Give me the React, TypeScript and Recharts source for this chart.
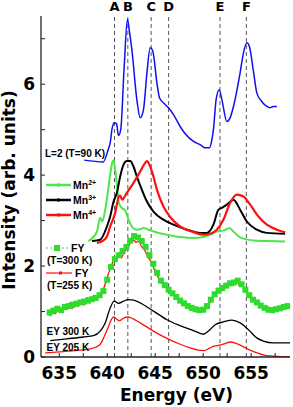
import { LineChart, Line, XAxis, YAxis, ReferenceLine } from 'recharts';

// axes
const energyTicks = [635, 637.5, 640, 642.5, 645, 647.5, 650, 652.5, 655, 657.5];
const energyLabels = [635, 640, 645, 650, 655];
const intensityTicks = [0, 1, 2, 3, 4, 5, 6, 7];
const intensityLabels = [0, 2, 4, 6];

// peak markers
const peakNames = ['A', 'B', 'C', 'D', 'E', 'F'];
const peakEnergies = [640.76, 642.15, 644.58, 646.4, 651.75, 654.5];

// L=2 (T=90 K)
const l2Spectrum: [number, number][] = [
  [637.6, 4.33], [639.58, 4.29], [640.1, 4.56], [640.31, 4.71], [640.49, 5.0], [640.76, 5.16],
  [640.97, 5.13], [641.18, 4.87], [641.41, 5.0], [641.77, 6.39], [642.11, 7.43], [642.29, 7.2],
  [642.57, 6.76], [643.09, 5.66], [643.44, 5.26], [643.78, 5.44], [644.14, 6.25], [644.48, 6.8],
  [644.76, 6.72], [645.18, 6.03], [645.45, 5.7], [645.86, 5.59], [646.39, 5.48], [646.91, 5.33],
  [647.6, 5.07], [648.13, 4.91], [648.99, 4.74], [649.69, 4.67], [650.21, 4.6], [650.66, 4.6],
  [650.91, 4.78], [651.07, 5.0], [651.35, 5.66], [651.67, 5.88], [651.95, 5.66], [652.47, 5.18],
  [652.81, 5.26], [653.16, 5.51], [653.85, 6.25], [654.2, 6.69], [654.55, 6.91], [654.82, 6.83],
  [655.24, 6.28], [655.59, 5.81], [656.11, 5.62], [656.64, 5.51], [656.98, 5.48], [657.29, 5.51],
  [657.68, 5.51],
];

// references
const mn2Spectrum: [number, number][] = [
  [638.05, 2.55], [638.93, 2.76], [639.27, 3.06], [639.48, 2.98], [639.79, 3.24], [640.1, 3.68],
  [640.36, 4.08], [640.52, 4.27], [640.68, 4.33], [640.83, 4.12], [641.01, 3.79], [641.2, 3.4],
  [641.46, 3.29], [641.88, 3.22], [642.22, 3.02], [642.57, 2.87], [643.09, 2.8], [643.44, 2.81],
  [643.78, 2.84], [644.3, 2.8], [645.18, 2.74], [646.22, 2.69], [647.6, 2.64], [648.99, 2.62],
  [650.03, 2.64], [650.73, 2.69], [651.42, 2.76], [652.11, 2.78], [652.74, 2.84], [653.16, 2.76],
  [653.85, 2.63], [655.24, 2.56], [656.64, 2.55], [658.54, 2.54],
];

const mn3Spectrum: [number, number][] = [
  [638.41, 2.55], [639.27, 2.58], [639.97, 2.87], [640.31, 3.09], [640.66, 3.42], [641.01, 3.61],
  [641.35, 3.97], [641.7, 4.23], [642.05, 4.31], [642.4, 4.31], [642.74, 4.19], [643.09, 3.97],
  [643.61, 3.68], [644.14, 3.42], [644.82, 3.2], [645.86, 3.02], [646.91, 2.91], [648.3, 2.8],
  [649.69, 2.73], [650.39, 2.73], [651.07, 2.91], [651.59, 3.24], [651.95, 3.28], [652.47, 3.35],
  [653.16, 3.46], [653.85, 3.24], [654.55, 2.98], [655.59, 2.8], [656.64, 2.73], [658.54, 2.71],
];

const mn4Spectrum: [number, number][] = [
  [638.93, 2.51], [639.58, 2.56], [639.97, 2.65], [640.31, 2.87], [640.83, 3.17], [641.18, 3.51],
  [641.35, 3.55], [641.56, 3.46], [642.05, 3.61], [642.74, 3.83], [643.44, 4.08], [643.96, 4.27],
  [644.14, 4.31], [644.48, 4.19], [644.82, 3.97], [645.18, 3.68], [645.86, 3.31], [646.56, 3.08],
  [647.6, 2.87], [648.82, 2.76], [650.03, 2.69], [650.73, 2.71], [651.42, 2.8], [652.11, 3.02],
  [652.81, 3.39], [653.51, 3.57], [654.2, 3.53], [654.9, 3.35], [655.76, 3.09], [656.64, 2.91],
  [657.68, 2.8], [658.54, 2.74],
];

// fluorescence yield
const fy300Spectrum: [number, number][] = [
  [634.0, 0.98], [634.4, 1.02], [634.8, 1.06], [635.2, 1.03], [635.6, 1.1], [636.0, 1.12],
  [636.4, 1.15], [636.8, 1.17], [637.2, 1.2], [637.6, 1.22], [638.0, 1.24], [638.4, 1.27],
  [638.8, 1.3], [639.2, 1.36], [639.6, 1.45], [640.0, 1.7], [640.4, 1.98], [640.8, 2.15],
  [641.2, 2.24], [641.6, 2.33], [642.0, 2.42], [642.4, 2.56], [642.8, 2.66], [643.2, 2.63],
  [643.6, 2.55], [644.0, 2.42], [644.4, 2.24], [644.8, 2.05], [645.2, 1.85], [645.6, 1.68],
  [646.0, 1.58], [646.4, 1.48], [646.8, 1.4], [647.2, 1.32], [647.6, 1.24], [648.0, 1.18],
  [648.4, 1.12], [648.8, 1.08], [649.2, 1.05], [649.6, 1.03], [650.0, 1.04], [650.4, 1.12],
  [650.8, 1.26], [651.2, 1.38], [651.6, 1.46], [652.0, 1.52], [652.4, 1.57], [652.8, 1.62],
  [653.2, 1.64], [653.6, 1.68], [654.0, 1.6], [654.4, 1.48], [654.8, 1.36], [655.2, 1.26],
  [655.6, 1.2], [656.0, 1.13], [656.4, 1.08], [656.8, 1.04], [657.2, 1.03], [657.6, 1.05],
  [658.0, 1.07], [658.4, 1.1], [658.8, 1.12],
];

const fy255Spectrum: [number, number][] = [
  [634.0, 0.9], [634.3, 0.98], [634.6, 0.95], [634.9, 1.08], [635.2, 1.0], [635.5, 1.12],
  [635.8, 1.05], [636.1, 1.18], [636.4, 1.08], [636.7, 1.22], [637.0, 1.12], [637.3, 1.25],
  [637.6, 1.15], [637.9, 1.3], [638.2, 1.2], [638.5, 1.33], [638.8, 1.26], [639.1, 1.4],
  [639.4, 1.36], [639.7, 1.55], [640.0, 1.75], [640.3, 1.95], [640.6, 2.1], [640.9, 2.14],
  [641.2, 2.22], [641.5, 2.18], [641.8, 2.32], [642.1, 2.38], [642.4, 2.5], [642.7, 2.58],
  [643.0, 2.52], [643.3, 2.55], [643.6, 2.42], [643.9, 2.35], [644.2, 2.22], [644.5, 2.12],
  [644.8, 1.98], [645.1, 1.82], [645.4, 1.72], [645.7, 1.62], [646.0, 1.58], [646.3, 1.5],
  [646.6, 1.45], [646.9, 1.38], [647.2, 1.36], [647.5, 1.26], [647.8, 1.22], [648.1, 1.18],
  [648.4, 1.1], [648.7, 1.12], [649.0, 1.04], [649.3, 1.08], [649.6, 1.0], [649.9, 1.05],
  [650.2, 1.02], [650.5, 1.14], [650.8, 1.22], [651.1, 1.36], [651.4, 1.4], [651.7, 1.5],
  [652.0, 1.46], [652.3, 1.58], [652.6, 1.54], [652.9, 1.64], [653.2, 1.58], [653.5, 1.68],
  [653.8, 1.56], [654.1, 1.58], [654.4, 1.46], [654.7, 1.4], [655.0, 1.3], [655.3, 1.28],
  [655.6, 1.2], [655.9, 1.16], [656.2, 1.12], [656.5, 1.06], [656.8, 1.1], [657.1, 1.0],
  [657.4, 1.06], [657.7, 1.02], [658.0, 1.08], [658.3, 1.04], [658.6, 1.12], [658.9, 1.1],
];

// electron yield
const ey300Spectrum: [number, number][] = [
  [634.06, 0.36], [635.8, 0.4], [637.53, 0.44], [638.57, 0.47], [639.27, 0.57], [639.79, 0.75],
  [640.31, 1.08], [640.73, 1.23], [641.18, 1.18], [641.7, 1.23], [642.22, 1.26], [642.74, 1.25],
  [643.78, 1.15], [644.82, 1.01], [646.22, 0.82], [647.6, 0.69], [648.99, 0.58], [649.69, 0.52],
  [650.03, 0.5], [650.55, 0.57], [651.25, 0.71], [652.11, 0.77], [652.99, 0.81], [653.85, 0.75],
  [654.72, 0.6], [655.59, 0.42], [656.28, 0.35], [657.32, 0.31], [659.06, 0.31],
];

const ey205Spectrum: [number, number][] = [
  [633.54, 0.09], [635.42, 0.12], [637.19, 0.15], [638.23, 0.18], [638.85, 0.22], [639.27, 0.28],
  [639.69, 0.45], [640.14, 0.67], [640.42, 0.82], [640.68, 0.88], [640.94, 0.84], [641.28, 0.8],
  [641.67, 0.85], [642.14, 0.88], [642.6, 0.85], [643.44, 0.75], [644.82, 0.57], [646.22, 0.41],
  [647.6, 0.28], [648.65, 0.2], [649.48, 0.15], [650.1, 0.14], [650.63, 0.19], [651.15, 0.24],
  [651.67, 0.26], [652.19, 0.29], [652.81, 0.33], [653.44, 0.3], [654.17, 0.23], [654.9, 0.15],
  [655.63, 0.09], [656.35, 0.04], [657.19, 0.02], [658.23, 0.01], [659.06, 0.01],
];

const toPoints = (arr: [number, number][]) => arr.map(([e, v]) => ({ e, v }));

const GREEN_REF = '#4de64d';
const GREEN_FY = '#2edc2e';
const BLUE = '#1010f0';
const RED = '#ff1010';
const X_DOMAIN: [number, number] = [633.1, 659.05];
const Y_DOMAIN: [number, number] = [0, 7.5];

const tickFont = { fontSize: 17, fontWeight: 'bold', fontFamily: 'DejaVu Sans', fill: '#000' };
const noteFont = { fontSize: 10, fontWeight: 'bold', fontFamily: 'Liberation Sans, Arial', fill: '#000' };

function SquareDot(props: any) {
  const { cx, cy, index } = props;
  if (cx == null || cy == null) return null;
  return <rect key={`sq-${index}`} x={cx - 3} y={cy - 3} width={6} height={6} fill={GREEN_FY} />;
}

function Sup({ x, y, base, sup }: { x: number; y: number; base: string; sup: string }) {
  return (
    <text x={x} y={y} {...noteFont} fontSize={10.5}>
      {base}
      <tspan dy={-4} fontSize={7}>{sup}</tspan>
    </text>
  );
}

export default function App() {
  const axisStroke = { stroke: '#222', strokeWidth: 1.3 };
  return (
    <div style={{ position: 'relative', width: 293, height: 407 }}>
      <style>{'body{margin:0}'}</style>
      <LineChart width={293} height={407} margin={{ top: 16, right: 3, left: 0, bottom: 0 }}>
        <XAxis
          dataKey="e"
          type="number"
          domain={X_DOMAIN}
          allowDataOverflow
          ticks={energyTicks}
          interval={0}
          tickFormatter={(v) => (energyLabels.includes(v) ? String(v) : '')}
          tickSize={-4}
          tickMargin={13.5}
          height={50}
          axisLine={axisStroke}
          tickLine={{ stroke: '#222' }}
          tick={tickFont}
        />
        <XAxis
          xAxisId="top"
          orientation="top"
          dataKey="e"
          type="number"
          domain={X_DOMAIN}
          allowDataOverflow
          ticks={energyTicks}
          interval={0}
          tickSize={-4}
          height={0}
          tick={false}
          axisLine={axisStroke}
          tickLine={{ stroke: '#222' }}
        />
        <YAxis
          type="number"
          domain={Y_DOMAIN}
          allowDataOverflow
          ticks={intensityTicks}
          interval={0}
          tickFormatter={(v) => (intensityLabels.includes(v) ? String(v) : '')}
          tickSize={-4}
          tickMargin={10}
          width={41}
          axisLine={axisStroke}
          tickLine={{ stroke: '#222' }}
          tick={tickFont}
        />
        <YAxis
          yAxisId="right"
          orientation="right"
          type="number"
          domain={Y_DOMAIN}
          allowDataOverflow
          ticks={intensityTicks}
          interval={0}
          tickSize={-4}
          width={0}
          tick={false}
          axisLine={axisStroke}
          tickLine={{ stroke: '#222' }}
        />

        {peakEnergies.map((e, i) => (
          <ReferenceLine
            key={peakNames[i]}
            x={e}
            stroke="#555"
            strokeDasharray="4 3"
            strokeWidth={1}
            label={{
              value: peakNames[i],
              position: 'top',
              offset: 5,
              fontSize: 13,
              fontWeight: 'bold',
              fontFamily: 'DejaVu Sans',
              fill: '#000',
            }}
          />
        ))}

        <Line data={toPoints(mn2Spectrum)} dataKey="v" type="monotone" stroke={GREEN_REF} strokeWidth={2} dot={false} isAnimationActive={false} />
        <Line data={toPoints(mn3Spectrum)} dataKey="v" type="monotone" stroke="#000" strokeWidth={2} dot={false} isAnimationActive={false} />
        <Line data={toPoints(mn4Spectrum)} dataKey="v" type="monotone" stroke={RED} strokeWidth={2.2} dot={false} isAnimationActive={false} />
        <Line data={toPoints(l2Spectrum)} dataKey="v" type="monotone" stroke={BLUE} strokeWidth={1.5} dot={false} isAnimationActive={false} />
        <Line data={toPoints(fy300Spectrum)} dataKey="v" type="linear" stroke={GREEN_FY} strokeWidth={1} strokeDasharray="2 2" dot={<SquareDot />} isAnimationActive={false} />
        <Line data={toPoints(fy255Spectrum)} dataKey="v" type="linear" stroke={RED} strokeWidth={1.2} dot={false} isAnimationActive={false} />
        <Line data={toPoints(ey300Spectrum)} dataKey="v" type="monotone" stroke="#000" strokeWidth={1.3} dot={false} isAnimationActive={false} />
        <Line data={toPoints(ey205Spectrum)} dataKey="v" type="monotone" stroke={RED} strokeWidth={1.3} dot={false} isAnimationActive={false} />
      </LineChart>

      {/* titles, annotations and legend */}
      <svg
        width={293}
        height={407}
        style={{ position: 'absolute', left: 0, top: 0, pointerEvents: 'none' }}
      >
        <text
          x={15}
          y={190}
          transform="rotate(-90 15 190)"
          textAnchor="middle"
          {...tickFont}
        >
          Intensity (arb. units)
        </text>
        <text x={176.5} y={400.5} textAnchor="middle" {...tickFont}>
          Energy (eV)
        </text>

        <text x={45} y={157} {...noteFont}>L=2 (T=90 K)</text>

        <line x1={46} x2={71} y1={185} y2={185} stroke={GREEN_REF} strokeWidth={2.5} />
        <circle cx={58.5} cy={185} r={1.8} fill={GREEN_REF} />
        <Sup x={73} y={189} base="Mn" sup="2+" />
        <line x1={46} x2={71} y1={200} y2={200} stroke="#000" strokeWidth={2.5} />
        <circle cx={58.5} cy={200} r={1.8} fill="#000" />
        <Sup x={73} y={204} base="Mn" sup="3+" />
        <line x1={46} x2={71} y1={215} y2={215} stroke={RED} strokeWidth={2.5} />
        <rect x={57} y={213.5} width={3} height={3} fill={RED} />
        <Sup x={73} y={219} base="Mn" sup="4+" />

        <line x1={46} x2={68} y1={248} y2={248} stroke={GREEN_FY} strokeWidth={1} strokeDasharray="2 2" />
        <rect x={54} y={245} width={6} height={6} fill={GREEN_FY} />
        <text x={71} y={252} {...noteFont} fontSize={10.5}>FY</text>
        <text x={47} y={264} {...noteFont}>(T=300 K)</text>
        <line x1={46} x2={72} y1={273} y2={273} stroke={RED} strokeWidth={1.2} />
        <rect x={59} y={271.5} width={3} height={3} fill={RED} />
        <text x={75} y={277} {...noteFont} fontSize={10.5}>FY</text>
        <text x={47} y={289} {...noteFont}>(T=255 K)</text>

        <text x={46.5} y={335} {...noteFont}>EY 300 K</text>
        <text x={46.5} y={351} {...noteFont}>EY 205 K</text>
      </svg>
    </div>
  );
}
